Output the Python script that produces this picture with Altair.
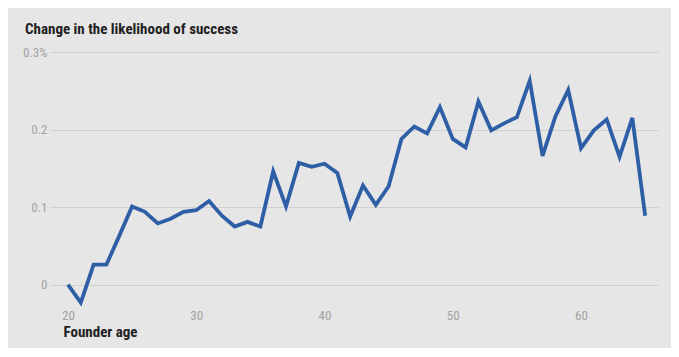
import altair as alt
import pandas as pd

ages = list(range(20, 66))
change = [0.0, -0.023, 0.026, 0.026, 0.063, 0.101, 0.094, 0.079, 0.085, 0.094,
          0.096, 0.108, 0.089, 0.075, 0.081, 0.075, 0.146, 0.101, 0.157, 0.152,
          0.156, 0.144, 0.088, 0.128, 0.103, 0.127, 0.188, 0.204, 0.195, 0.229,
          0.188, 0.177, 0.236, 0.199, 0.208, 0.216, 0.263, 0.166, 0.217, 0.251,
          0.176, 0.199, 0.213, 0.165, 0.215, 0.089]
x_ticks = [20, 30, 40, 50, 60]
y_ticks = [0, 0.1, 0.2, 0.3]

df = pd.DataFrame({"age": ages, "change": change})

FONT = "Liberation Sans Narrow, Roboto Condensed, DejaVu Sans Condensed, Liberation Sans, sans-serif"
BG = "#e6e6e6"

chart = alt.Chart(df).mark_line(color="#2e5fa6", strokeWidth=3.8, strokeJoin="miter").encode(
    x=alt.X("age:Q",
            scale=alt.Scale(domain=[18.6, 66], nice=False, zero=False),
            axis=alt.Axis(values=x_ticks, grid=False, ticks=False, domain=False,
                          labelFont=FONT, labelFontSize=13, labelColor="#a3a3a3",
                          labelFontWeight="normal",
                          labelPadding=1, labelBaseline="top",
                          title="Founder age", titleFont=FONT, titleFontSize=15,
                          titleFontWeight="bold", titleColor="#222222",
                          titleAnchor="start", titleAlign="left", titleX=13,
                          titleY=28, titleBaseline="alphabetic")),
    y=alt.Y("change:Q",
            scale=alt.Scale(domain=[-0.03, 0.3], nice=False, zero=False),
            axis=alt.Axis(values=y_ticks, grid=True, gridColor="#d0d0d0", gridWidth=1.2,
                          ticks=False, domain=False, labelFont=FONT, labelFontSize=13,
                          labelColor="#a3a3a3", labelFontWeight="normal", labelPadding=3,
                          labelExpr="datum.value == 0.3 ? '0.3%' : (datum.value == 0 ? '0' : format(datum.value, '.1f'))",
                          title=None)),
).properties(
    width=608,
    height=256,
    background=BG,
    padding={"left": 42, "top": 44, "right": 13, "bottom": 40},
    autosize=alt.AutoSizeParams(type="none"),
    title=alt.TitleParams(text="Change in the likelihood of success", anchor="start",
                          frame="group", dx=-25, dy=22, offset=19, baseline="alphabetic",
                          font=FONT, fontSize=15, fontWeight="bold", color="#222222"),
).configure_view(stroke=None)

chart.save("out.html", embed_options={"renderer": "svg", "actions": False})
